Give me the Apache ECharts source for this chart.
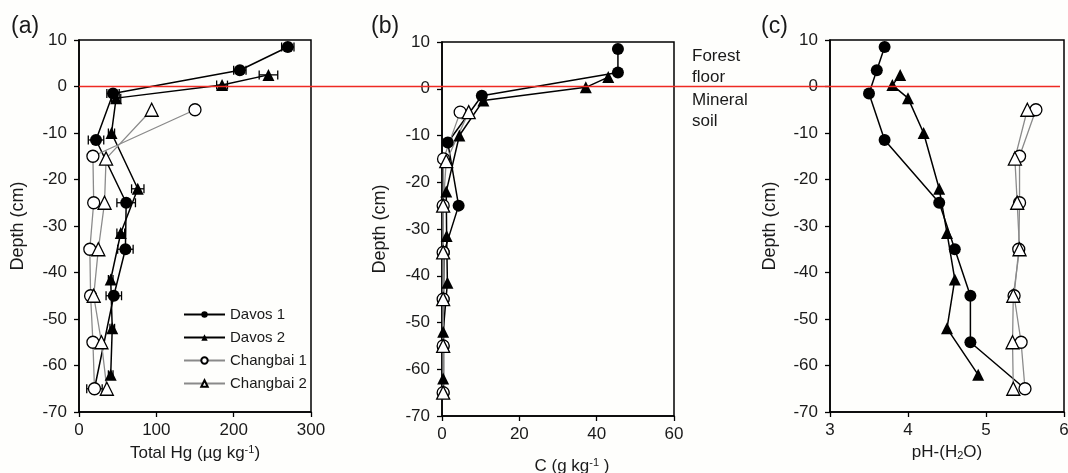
<!DOCTYPE html>
<html>
<head>
<meta charset="utf-8">
<script src="https://cdn.jsdelivr.net/npm/echarts@6/dist/echarts.min.js"></script>
<style>
html,body{margin:0;padding:0;background:#fefefc}
#main{width:1068px;height:473px}
</style>
</head>
<body>
<div id="main"></div>
<script>
// depths (cm)
var depthDavos1 = [8.5, 3.5, -1.5, -11.5, -25, -35, -45, -55, -65];
var depthDavos2 = [2.5, 0.3, -2.5, -10, -22, -31.5, -41.5, -52, -62];
var depthChangbai1 = [-5, -15, -25, -35, -45, -55, -65];
var depthChangbai2 = [-5, -15.5, -25, -35, -45, -55, -65];

// (a) total Hg (ug/kg) and error bars
var hgDavos1 = [270, 208, 44, 22, 61, 60, 45, null, 20];
var hgErrDavos1 = [8, 8, 8, 10, 12, 10, 10, 0, 10];
var hgDavos2 = [245, 185, 48, 42, 76, 54, 41, 43, 41];
var hgErrDavos2 = [12, 7, 6, 4, 8, 5, 3, 3, 3];
var hgChangbai1 = [150, 18, 19, 14, 15, 18, 20];
var hgErrChangbai1 = [0, 5, 0, 3, 0, 0, 0];
var hgChangbai2 = [94, 35, 33, 25, 19, 29, 36];
var hgErrChangbai2 = [0, 0, 0, 0, 0, 0, 0];

// (b) C (g/kg)
var cDavos1 = [45.5, 45.5, 10.3, 1.5, 4.3, 0.5, 0.4, 0.4, 0.4];
var cDavos2 = [43, 37.2, 10.7, 4.5, 1.1, 1.2, 1.4, 0.3, 0.3];
var cChangbai1 = [4.7, 0.4, 0.3, 0.3, 0.3, 0.3, 0.3];
var cChangbai2 = [6.9, 1.1, 0.3, 0.3, 0.3, 0.3, 0.3];

// (c) pH
var phDavos1 = [3.7, 3.6, 3.5, 3.7, 4.4, 4.6, 4.8, 4.8, 5.5];
var phDavos2 = [3.9, 3.8, 4.0, 4.2, 4.4, 4.5, 4.6, 4.5, 4.9];
var phChangbai1 = [5.64, 5.43, 5.43, 5.42, 5.36, 5.45, 5.5];
var phChangbai2 = [5.53, 5.37, 5.4, 5.43, 5.35, 5.34, 5.35];

var sampleNames = ['Davos 1', 'Davos 2', 'Changbai 1', 'Changbai 2'];
var font = 'Liberation Sans, Arial, sans-serif';

var chart = echarts.init(document.getElementById('main'));

//样式
var look = {
    'Davos 1':    {symbol: 'circle',   size: 12, line: '#000', fill: '#000', lw: 1.5},
    'Davos 2':    {symbol: 'triangle', size: 12, line: '#000', fill: '#000', lw: 1.5},
    'Changbai 1': {symbol: 'circle',   size: 12, line: '#8a8a8a', fill: '#fff', lw: 1.3},
    'Changbai 2': {symbol: 'triangle', size: 13, line: '#8a8a8a', fill: '#fff', lw: 1.3}
};

function pairs(xs, ys) {
    var out = [];
    for (var i = 0; i < xs.length; i++) {
        if (xs[i] != null) out.push([xs[i], ys[i]]);
    }
    return out;
}

function lineSeries(name, g, xs, ys) {
    var s = look[name];
    return {
        name: name,
        type: 'line',
        xAxisIndex: g,
        yAxisIndex: g,
        data: pairs(xs, ys),
        symbol: s.symbol,
        symbolSize: s.size,
        showSymbol: true,
        lineStyle: {color: s.line, width: s.lw},
        itemStyle: {color: s.fill, borderColor: '#000', borderWidth: s.fill == '#fff' ? 1.3 : 0},
        emphasis: {disabled: true},
        z: 3,
        animation: false
    };
}

function errSeries(xs, errs, ys) {
    var d = [];
    for (var i = 0; i < xs.length; i++) {
        if (xs[i] != null && errs[i] > 0) d.push([xs[i], errs[i], ys[i]]);
    }
    return {
        type: 'custom',
        xAxisIndex: 0,
        yAxisIndex: 0,
        encode: {x: 0, y: 2},
        data: d,
        z: 2,
        silent: true,
        animation: false,
        renderItem: function (params, api) {
            var x = api.value(0), e = api.value(1), y = api.value(2);
            var a = api.coord([x - e, y]);
            var b = api.coord([x + e, y]);
            var h = 4.5;
            var st = {stroke: '#000', lineWidth: 1.3};
            return {type: 'group', children: [
                {type: 'line', shape: {x1: a[0], y1: a[1], x2: b[0], y2: b[1]}, style: st},
                {type: 'line', shape: {x1: a[0], y1: a[1] - h, x2: a[0], y2: a[1] + h}, style: st},
                {type: 'line', shape: {x1: b[0], y1: b[1] - h, x2: b[0], y2: b[1] + h}, style: st}
            ]};
        }
    };
}

var grids = [
    {left: 79, top: 40, width: 232, height: 372},
    {left: 442, top: 42, width: 232, height: 374},
    {left: 830, top: 40, width: 234, height: 372}
];

var axisCommon = {
    axisLine: {show: true, onZero: false, lineStyle: {color: '#000', width: 1.5}},
    axisTick: {show: true, inside: false, length: 5, lineStyle: {color: '#000', width: 1.3}},
    splitLine: {show: false},
    axisLabel: {color: '#1a1a1a', fontSize: 17, fontFamily: font},
    nameTextStyle: {color: '#1a1a1a', fontSize: 17, fontFamily: font,
        rich: {
            sup: {fontSize: 11, fontFamily: font, color: '#1a1a1a', verticalAlign: 'top', padding: [0, 0, 8, 0]},
            sub: {fontSize: 11, fontFamily: font, color: '#1a1a1a', verticalAlign: 'bottom', padding: [8, 0, 0, 0]}
        }}
};

function xAxis(g, min, max, interval, name, gap, pad) {
    var ax = echarts.util.merge({
        type: 'value', gridIndex: g, min: min, max: max, interval: interval,
        position: 'bottom',
        name: name, nameLocation: 'middle', nameGap: gap,
        axisLabel: {margin: 10}
    }, axisCommon, false);
    if (pad) ax.nameTextStyle = echarts.util.merge({padding: pad}, axisCommon.nameTextStyle, false);
    return ax;
}

function yAxis(g, gap) {
    var ax = echarts.util.merge({
        type: 'value', gridIndex: g, min: -70, max: 10, interval: 10,
        position: 'left',
        name: 'Depth (cm)', nameLocation: 'middle', nameGap: gap, nameRotate: 90,
        axisLabel: {margin: 12}
    }, axisCommon, false);
    ax.nameTextStyle = echarts.util.merge({fontSize: 18}, axisCommon.nameTextStyle, false);
    return ax;
}

var series = [];
// (a)
series.push(errSeries(hgDavos1, hgErrDavos1, depthDavos1));
series.push(errSeries(hgDavos2, hgErrDavos2, depthDavos2));
series.push(errSeries(hgChangbai1, hgErrChangbai1, depthChangbai1));
series.push(errSeries(hgChangbai2, hgErrChangbai2, depthChangbai2));
series.push(lineSeries('Davos 1', 0, hgDavos1, depthDavos1));
series.push(lineSeries('Davos 2', 0, hgDavos2, depthDavos2));
series.push(lineSeries('Changbai 1', 0, hgChangbai1, depthChangbai1));
series.push(lineSeries('Changbai 2', 0, hgChangbai2, depthChangbai2));
// (b)
series.push(lineSeries('Davos 1', 1, cDavos1, depthDavos1));
series.push(lineSeries('Davos 2', 1, cDavos2, depthDavos2));
series.push(lineSeries('Changbai 1', 1, cChangbai1, depthChangbai1));
series.push(lineSeries('Changbai 2', 1, cChangbai2, depthChangbai2));
// (c)
series.push(lineSeries('Davos 1', 2, phDavos1, depthDavos1));
series.push(lineSeries('Davos 2', 2, phDavos2, depthDavos2));
series.push(lineSeries('Changbai 1', 2, phChangbai1, depthChangbai1));
series.push(lineSeries('Changbai 2', 2, phChangbai2, depthChangbai2));

function label(id, text, x, y, size) {
    return {type: 'text', id: id, left: x, top: y, silent: true,
        style: {text: text, fontSize: size, fontFamily: font, fill: '#1a1a1a', lineHeight: 21}};
}

var option = {
    backgroundColor: '#fefefc',
    animation: false,
    grid: grids.map(function (g) {
        return echarts.util.merge({show: true, borderColor: '#000', borderWidth: 1.5,
            backgroundColor: 'transparent', containLabel: false, outerBoundsMode: 'none'}, g, true);
    }),
    xAxis: [
        xAxis(0, 0, 300, 100, 'Total Hg (µg kg{sup|-1})', 32),
        xAxis(1, 0, 60, 20, 'C (g kg{sup|-1} )', 41, [0, 0, 0, 28]),
        xAxis(2, 3, 6, 1, 'pH-(H{sub|2}O)', 29)
    ],
    yAxis: [yAxis(0, 52), yAxis(1, 53), yAxis(2, 51)],
    legend: {
        data: sampleNames,
        orient: 'vertical',
        left: 178, top: 302,
        itemWidth: 41, itemHeight: 8, itemGap: 8,
        textStyle: {fontSize: 15, fontFamily: font, color: '#1a1a1a'},
        selectedMode: false
    },
    graphic: [
        label('ta', '(a)', 11, 15, 23),
        label('tb', '(b)', 371, 15, 23),
        label('tc', '(c)', 761, 15, 23),
        label('forest', 'Forest\nfloor', 692, 46, 17),
        label('mineral', 'Mineral\nsoil', 692, 90, 17)
    ],
    series: series
};
chart.setOption(option);

// depth 0 boundary line drawn through the axis scale
var p0 = chart.convertToPixel({xAxisIndex: 0, yAxisIndex: 0}, [0, 0]);
var p2 = chart.convertToPixel({xAxisIndex: 2, yAxisIndex: 2}, [6, 0]);
chart.setOption({graphic: [{type: 'line', id: 'zero', silent: true, z: 10,
    shape: {x1: p0[0], y1: p0[1], x2: p2[0] - 4, y2: p0[1]},
    style: {stroke: '#ee2a22', lineWidth: 1.5}}]});
</script>
</body>
</html>
